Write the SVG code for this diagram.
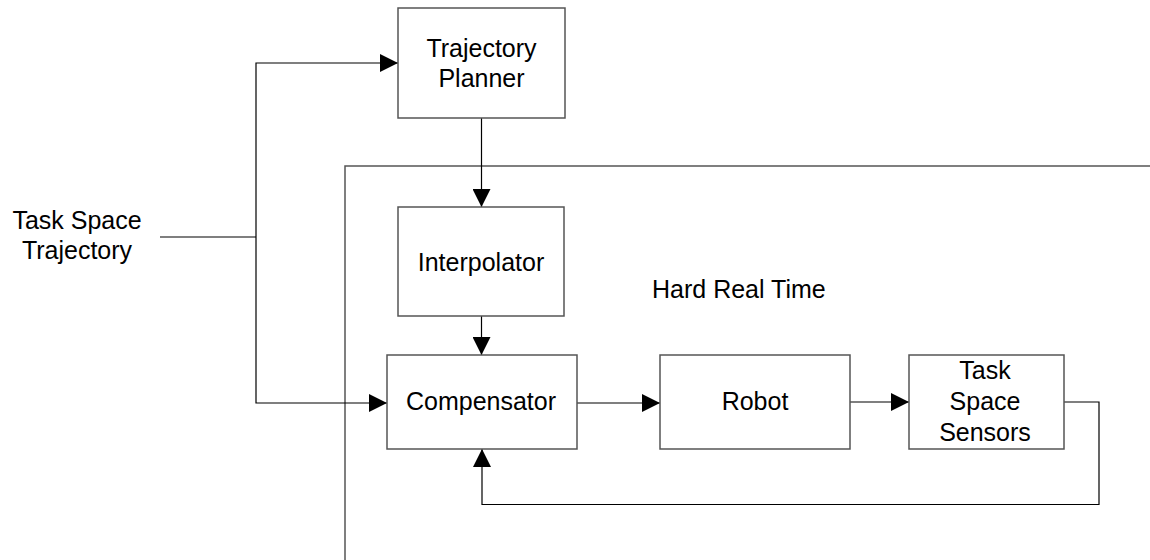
<svg xmlns="http://www.w3.org/2000/svg" width="1150" height="560" viewBox="0 0 1150 560">
  <defs>
    <marker id="arrow" markerUnits="userSpaceOnUse" markerWidth="18" markerHeight="18" viewBox="0 0 18 18" refX="18" refY="9" orient="auto">
      <path d="M0,0 L18,9 L0,18 Z" fill="#000"/>
    </marker>
    <style>
      .box { fill: #fff; stroke: #555; stroke-width: 1.5; }
      .lbl { font-family: "Liberation Sans", Arial, sans-serif; font-size: 25px; fill: #000; text-anchor: middle; }
      .conn { fill: none; stroke: #000; stroke-width: 1.2; }
      .bound { fill: none; stroke: #555; stroke-width: 1.5; }
    </style>
  </defs>
  <rect width="1150" height="560" fill="#fff"/>

  <g id="boundary">
    <polyline class="bound" points="345,560 345,166 1150,166"/>
    <text class="lbl" x="652" y="298" style="text-anchor:start">Hard Real Time</text>
  </g>

  <g id="connectors">
    <line class="conn" x1="160" y1="237" x2="256" y2="237"/>
    <polyline class="conn" points="256,237 256,63 398,63" marker-end="url(#arrow)"/>
    <polyline class="conn" points="256,237 256,403 387,403" marker-end="url(#arrow)"/>
    <line class="conn" x1="481.5" y1="118" x2="481.5" y2="207" marker-end="url(#arrow)"/>
    <line class="conn" x1="481.5" y1="316" x2="481.5" y2="355" marker-end="url(#arrow)"/>
    <line class="conn" x1="577" y1="403" x2="660" y2="403" marker-end="url(#arrow)"/>
    <line class="conn" x1="850" y1="402" x2="909" y2="402" marker-end="url(#arrow)"/>
    <polyline class="conn" points="1064,402 1099,402 1099,504.5 482,504.5 482,449" marker-end="url(#arrow)"/>
  </g>

  <g id="input-label">
    <text class="lbl" x="77" y="229">Task Space</text>
    <text class="lbl" x="77" y="259">Trajectory</text>
  </g>

  <g id="trajectory-planner">
    <rect class="box" x="398" y="8" width="167" height="110"/>
    <text class="lbl" x="481.5" y="57">Trajectory</text>
    <text class="lbl" x="481.5" y="87">Planner</text>
  </g>

  <g id="interpolator">
    <rect class="box" x="398" y="207" width="166" height="109"/>
    <text class="lbl" x="481" y="271">Interpolator</text>
  </g>

  <g id="compensator">
    <rect class="box" x="387" y="355" width="190" height="94"/>
    <text class="lbl" x="481" y="410">Compensator</text>
  </g>

  <g id="robot">
    <rect class="box" x="660" y="355" width="190" height="94"/>
    <text class="lbl" x="755" y="410">Robot</text>
  </g>

  <g id="task-space-sensors">
    <rect class="box" x="909" y="355" width="155" height="94"/>
    <text class="lbl" x="985" y="379">Task</text>
    <text class="lbl" x="985" y="410">Space</text>
    <text class="lbl" x="985" y="441">Sensors</text>
  </g>
</svg>
